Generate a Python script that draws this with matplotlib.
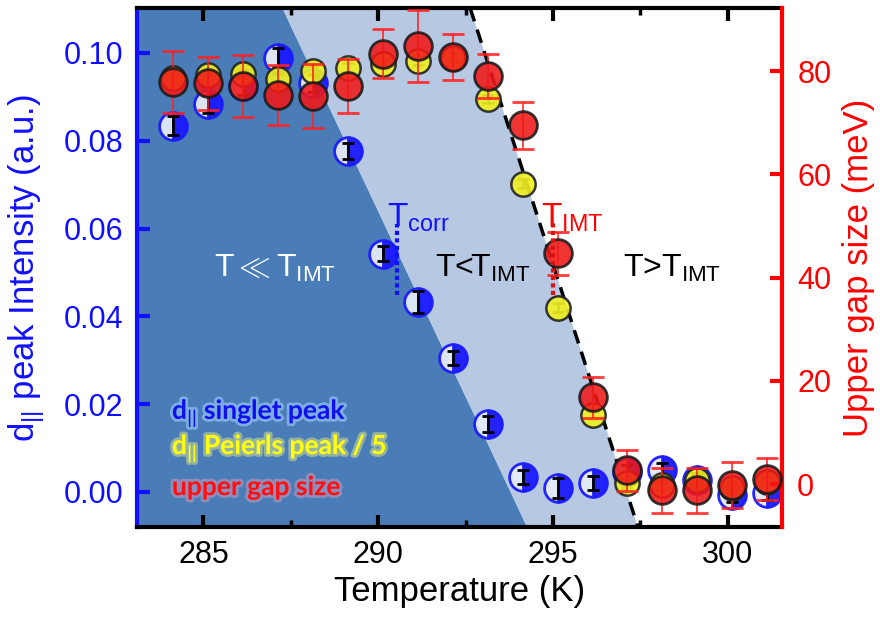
import numpy as np
import matplotlib
matplotlib.use("Agg")
import matplotlib.pyplot as plt
import matplotlib.patheffects as pe
from matplotlib.ticker import MultipleLocator

plt.rcParams['font.family'] = ['Liberation Sans', 'DejaVu Sans']
plt.rcParams['mathtext.fontset'] = 'custom'
plt.rcParams['mathtext.rm'] = 'Liberation Sans'
plt.rcParams['mathtext.it'] = 'Liberation Sans'
plt.rcParams['mathtext.bf'] = 'Liberation Sans:bold'

# ---- data ----
temps = [284.13, 285.13, 286.13, 287.13, 288.13, 289.13, 290.13, 291.13, 292.13, 293.13,
         294.13, 295.13, 296.13, 297.13, 298.13, 299.13, 300.13, 301.13]
singlet = [0.0834, 0.0884, 0.0925, 0.0989, 0.0932, 0.0777, 0.0543, 0.0432, 0.0305, 0.0155,
           0.0034, 0.0009, 0.0020, 0.0045, 0.0050, 0.0027, -0.0007, -0.0002]
singlet_err = [0.0022, 0.0020, 0.0020, 0.0022, 0.0020, 0.0018, 0.0018, 0.0025, 0.0016, 0.0018,
               0.0016, 0.0022, 0.0016, 0.0016, 0.0016, 0.0016, 0.0016, 0.0016]
peierls = [0.0943, 0.0950, 0.0952, 0.0941, 0.0959, 0.0966, 0.0975, 0.0982, 0.0989, 0.0895,
           0.0702, 0.0420, 0.0175, 0.0020, 0.0015, 0.0027, 0.0010, 0.0023]
peierls_err = [0.0010] * 18
gap = [77.8, 77.6, 77.1, 75.3, 75.1, 77.1, 83.4, 84.8, 82.7, 79.0,
       69.5, 44.7, 16.8, 2.7, -1.2, -1.2, -0.2, 1.0]
gap_err = [6.0, 5.2, 6.0, 5.8, 6.2, 5.2, 4.8, 7.0, 4.4, 4.3,
           4.6, 4.2, 3.9, 4.0, 4.3, 4.3, 4.5, 4.1]

# region boundaries (temperature at top and bottom of the plot)
dark_top, dark_bot = 287.26, 294.26
light_top, light_bot = 292.63, 297.43
t_corr = 290.54
t_imt = 295.0

xlim = (283.1, 301.55)
ylim_left = (-0.008, 0.1102)
ylim_right = (-8.3, 92.2)

fig = plt.figure(figsize=(8.8, 6.23), dpi=100)
ax = fig.add_axes([0.1557, 0.154, 0.8886 - 0.1557, 0.987 - 0.154])
ax.set_xlim(*xlim)
ax.set_ylim(*ylim_left)

# background regions in (data x, axes y)
trans = ax.get_xaxis_transform()
ax.fill([xlim[0], dark_top, dark_bot, xlim[0]], [1, 1, 0, 0], color='#4a7db8',
        transform=trans, zorder=0, lw=0)
ax.fill([dark_top, light_top, light_bot, dark_bot], [1, 1, 0, 0], color='#b7c9e2',
        transform=trans, zorder=0, lw=0)
ax.plot([light_top, light_bot], [1, 0], transform=trans, color='black', ls=(0, (4, 2.5)),
        lw=2.5, zorder=1)

# singlet (blue, half-filled)
ax.errorbar(temps, singlet, yerr=singlet_err, fmt='none', ecolor='black', elinewidth=2,
            capsize=4, capthick=2, zorder=3)
ax.plot(temps, singlet, 'o', ms=20, fillstyle='right', markerfacecolor='#1a1aff',
        markerfacecoloralt='#e4ebf6', markeredgecolor='#1a1aff', mew=2, zorder=2, alpha=0.95)

# peierls (yellow)
ax.errorbar(temps, peierls, yerr=peierls_err, fmt='o', ms=17.5, mfc='#f0f020', mec='#222222',
            mew=1.8, ecolor='black', elinewidth=1.8, capsize=4, capthick=1.8, zorder=4,
            alpha=0.9)

# right axis
ax2 = ax.twinx()
ax2.set_ylim(*ylim_right)
ax2.errorbar(temps, gap, yerr=gap_err, fmt='o', ms=20, mfc='#f01818', mec='#1a1a1a',
             mew=2, ecolor='#ff2020', elinewidth=1.3, capsize=8, capthick=1.3, zorder=5,
             alpha=0.88)

# spines
for s in ['top', 'bottom']:
    ax.spines[s].set_color('black')
    ax.spines[s].set_linewidth(3)
ax.spines['left'].set_color('#1010ff')
ax.spines['left'].set_linewidth(3)
ax.spines['right'].set_visible(False)
ax2.spines['right'].set_color('#ff0000')
ax2.spines['right'].set_linewidth(3)
ax2.spines['left'].set_visible(False)
ax2.spines['top'].set_visible(False)
ax2.spines['bottom'].set_visible(False)

ax.xaxis.set_major_locator(MultipleLocator(5))
ax.xaxis.set_minor_locator(MultipleLocator(2.5))
ax.yaxis.set_major_locator(MultipleLocator(0.02))
ax.yaxis.set_major_formatter(matplotlib.ticker.FormatStrFormatter('%.2f'))
ax.tick_params(axis='x', which='major', direction='in', length=9, width=3, top=True,
               labelsize=22, pad=9, colors='black')
ax.tick_params(axis='x', which='minor', direction='in', length=5, width=2.5, top=True)
ax.tick_params(axis='y', which='major', direction='in', length=9, width=3, colors='#1010ff',
               labelsize=22, pad=10)
ax2.yaxis.set_major_locator(MultipleLocator(20))
ax2.tick_params(axis='y', which='major', direction='in', length=9, width=3, colors='#ff0000',
                labelsize=22, pad=11)

ax.set_xlabel('Temperature (K)', fontsize=25, color='black', labelpad=4)
ax.set_ylabel(r'd$_{||}$ peak Intensity (a.u.)', fontsize=25, color='#1010ff', labelpad=12)
ax2.set_ylabel('Upper gap size (meV)', fontsize=25, color='#ff0000', labelpad=8)

# region labels
ax.text(287.06, 0.0509, r'T$\ll$T$_{\mathrm{IMT}}$', fontsize=23, color='white', ha='center',
        va='center', zorder=6)
ax.text(293.0, 0.0509, r'T<T$_{\mathrm{IMT}}$', fontsize=23, color='black', ha='center',
        va='center', zorder=6)
ax.text(298.4, 0.0509, r'T>T$_{\mathrm{IMT}}$', fontsize=23, color='black', ha='center',
        va='center', zorder=6)
ax.text(291.15, 0.0625, r'T$_{\mathrm{corr}}$', fontsize=24, color='#1010ff', ha='center',
        va='center', zorder=6)
ax.text(295.55, 0.0625, r'T$_{\mathrm{IMT}}$', fontsize=24, color='#ff0000', ha='center',
        va='center', zorder=6)
ax.plot([t_corr, t_corr], [0.0448, 0.0611], ls=(0, (1, 0.8)), color='#1010ff', lw=3, zorder=6)
ax2.plot([t_imt, t_imt], [36.6, 50.5], ls=(0, (1, 0.8)), color='#e01010', lw=3, zorder=6)

# legend text
lfont = ['Lato', 'DejaVu Sans']
ax.text(284.1, 0.0180, r'd$_{||}$ singlet peak', fontsize=19, fontweight='bold', family=lfont,
        color='#1010ee', ha='left', va='center',
        path_effects=[pe.withStroke(linewidth=4, foreground='#9fd0ff', alpha=0.6)], zorder=6)
ax.text(284.1, 0.0100, r'd$_{||}$ Peierls peak / 5', fontsize=19, fontweight='bold', family=lfont,
        color='#ffff10', ha='left', va='center',
        path_effects=[pe.withStroke(linewidth=4, foreground='#c8d890', alpha=0.6)], zorder=6)
ax.text(284.1, 0.0011, 'upper gap size', fontsize=19, fontweight='bold', family=lfont,
        color='#ff1010', ha='left', va='center',
        path_effects=[pe.withStroke(linewidth=4, foreground='#d0a0c0', alpha=0.5)], zorder=6)

fig.savefig('out.png', dpi=100)
